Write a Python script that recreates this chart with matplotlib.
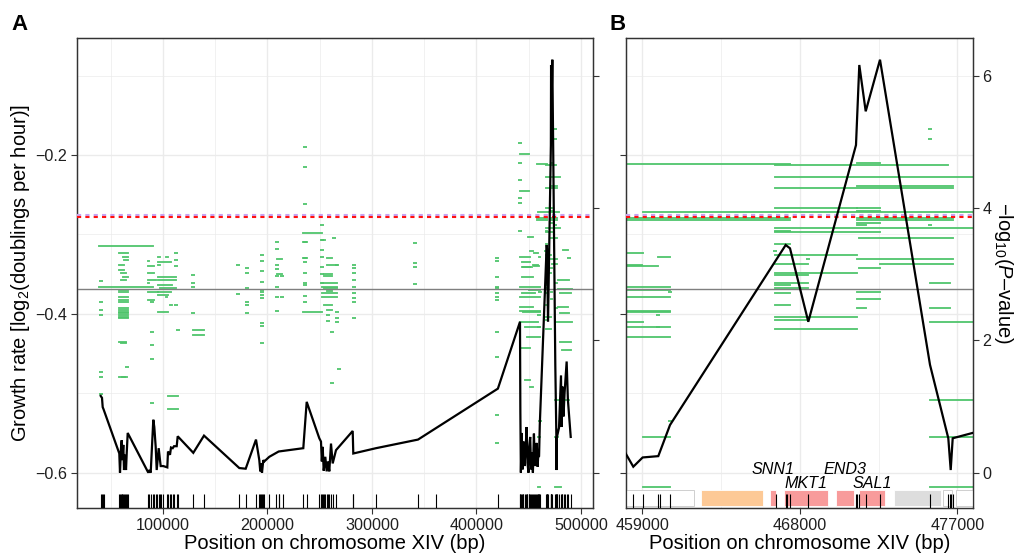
import matplotlib
matplotlib.use('Agg')
import matplotlib.pyplot as plt
from matplotlib.collections import LineCollection
import matplotlib.transforms as mtransforms
from matplotlib.patches import Rectangle

plt.rcParams['font.family'] = ['Liberation Sans', 'DejaVu Sans']
plt.rcParams['mathtext.fontset'] = 'custom'
plt.rcParams['mathtext.rm'] = 'Liberation Sans'
plt.rcParams['mathtext.it'] = 'Liberation Sans:italic'

# ---------------- data ----------------
# LOD curve (-log10 P) at marker positions
lod_pos = [40380, 41620, 42290, 43060, 58180, 58850, 59810, 60480, 61050, 62010,
           62680, 63640, 64600, 65260, 66220, 85930, 86900, 88230, 90720, 91670,
           93010, 93970, 95880, 97130, 97800, 100290, 104120, 104790, 106700, 107660,
           109280, 110530, 113110, 114070, 129000, 139240, 173020, 179140, 189000, 192160,
           193100, 194100, 194740, 196000, 196950, 201740, 210700, 234270, 237520, 249580,
           251200, 252000, 252830, 253790, 255320, 256660, 257900, 259150, 260780, 262400,
           265560, 281540, 282120, 303840, 344040, 420500, 441650, 442000, 442500, 443300,
           444200, 445000, 446000, 447000, 448000, 448800, 449800, 450600, 451400, 452300,
           453200, 454000, 455000, 455800, 456800, 457700, 458486, 459020, 459914, 460583,
           467194, 467440, 468486, 471211, 471400, 471766, 472583, 475440, 476486, 476623,
           476737, 479000, 480900, 481400, 482300, 483300, 484300, 486300, 487500, 490200]
lod_value = [1.16, 1.13, 0.99, 0.96, 0.29, 0.0, 0.37, 0.49, 0.19, 0.42,
             0.04, 0.27, 0.04, 0.29, 0.60, 0.0, 0.04, 0.0, 0.80, 0.69,
             0.39, 0.04, 0.37, 0.19, 0.10, 0.10, 0.08, 0.32, 0.27, 0.38,
             0.37, 0.40, 0.40, 0.55, 0.30, 0.56, 0.07, 0.06, 0.50, 0.19,
             0.02, 0.14, 0.0, 0.19, 0.17, 0.24, 0.32, 0.37, 1.07, 0.52,
             0.47, 0.17, 0.39, 0.03, 0.24, 0.02, 0.17, 0.02, 0.44, 0.14,
             0.34, 0.63, 0.29, 0.37, 0.50, 1.27, 2.28, 0.92, 0.0, 0.60,
             0.05, 0.47, 0.10, 0.35, 0.69, 0.15, 0.0, 0.40, 0.54, 0.05,
             0.30, 0.0, 0.59, 0.10, 0.30, 0.45, 0.09, 0.23, 0.25, 0.72,
             3.44, 3.39, 2.28, 4.95, 6.16, 5.46, 6.24, 1.63, 0.52, 0.04,
             0.52, 0.68, 1.47, 0.69, 1.30, 0.85, 1.20, 1.68, 1.10, 0.54]
extra_markers = [208140, 211300, 214500, 361260, 460011, 466640, 467286, 471286, 476577]

lod_threshold = 3.87
lod_threshold_alt = 3.89
mean_growth = -0.3686

# growth-rate segments (start bp, end bp, growth rate)
segs_west = [
    (39040, 90720, -0.3145), (39040, 90720, -0.3665),
    (58180, 66220, -0.3237), (61430, 66220, -0.3280), (62970, 66220, -0.3321),
    (58180, 62970, -0.3384), (58180, 62970, -0.3447), (59810, 64600, -0.3489),
    (61430, 66220, -0.3531), (59810, 64600, -0.3573), (58180, 66220, -0.3699),
    (58180, 66220, -0.3720), (58180, 66220, -0.3783), (58180, 66220, -0.3825),
    (58180, 66220, -0.3846), (58180, 66220, -0.3929), (58180, 66220, -0.3951),
    (58180, 66220, -0.3972), (58180, 66220, -0.3992), (58180, 66220, -0.4014),
    (58180, 66220, -0.4035), (58180, 66220, -0.4055), (58180, 64600, -0.4350),
    (59810, 64600, -0.4370), (58180, 63930, -0.4791), (60500, 65200, -0.4798),
    (85360, 87000, -0.3334), (85360, 91000, -0.3397), (85360, 91000, -0.3489),
    (85360, 93000, -0.3573), (85360, 87000, -0.3615), (85360, 95000, -0.3720),
    (85360, 91000, -0.3825),
    (94930, 97000, -0.3280), (103000, 104500, -0.3280), (94930, 107660, -0.3343),
    (94930, 97000, -0.3385), (94930, 112440, -0.3531), (94930, 112440, -0.3580),
    (94930, 109000, -0.3636), (97000, 112440, -0.3678), (94930, 107660, -0.3720),
    (94930, 104500, -0.3762), (94930, 104500, -0.3972), (104500, 114070, -0.5030),
    (104500, 114070, -0.5198), (102800, 104000, -0.3783), (107000, 108200, -0.3890),
    (129000, 139520, -0.4203), (129000, 139520, -0.4266),
]
segs_central = [
    (208810, 213600, -0.3309), (208810, 213600, -0.3497),
    (234270, 251870, -0.2985), (234270, 251870, -0.3980),
    (234270, 237520, -0.3090), (234270, 237520, -0.3292),
    (251870, 255000, -0.3069), (256660, 266230, -0.3384), (256660, 261400, -0.3300),
    (254000, 261400, -0.3497), (254000, 261400, -0.3527), (251870, 266230, -0.3615),
    (251870, 266230, -0.3657), (254000, 266230, -0.3678), (251870, 266230, -0.3741),
    (251870, 266230, -0.3783), (254000, 261400, -0.3888), (256660, 261400, -0.3951),
    (256660, 261400, -0.3716),
]
segs_east = [
    (441650, 449970, -0.1986), (441650, 449970, -0.2456), (449650, 454430, -0.3035),
    (451220, 454100, -0.3212), (441650, 451220, -0.3287), (443300, 451220, -0.3346),
    (444900, 452800, -0.3413), (443300, 451220, -0.3406), (443300, 454400, -0.3531),
    (454400, 459000, -0.3389), (443300, 456400, -0.3741), (441650, 454400, -0.3911),
    (441650, 451220, -0.4433), (446000, 451220, -0.4832), (451220, 453800, -0.4917),
    (478500, 491130, -0.3690), (478500, 489000, -0.3573), (480000, 490000, -0.3741),
    (478500, 488000, -0.3910), (480000, 489000, -0.3993), (480000, 490000, -0.4350),
    (482000, 490000, -0.4455), (483000, 488000, -0.3199),
]
segs_mkt1 = [
    (457600, 467440, -0.2112), (466583, 476488, -0.2120), (471250, 472583, -0.2105),
    (466583, 480400, -0.2272), (466583, 476735, -0.2410), (471250, 476735, -0.2390),
    (466583, 471250, -0.2670), (471250, 472583, -0.2666), (471250, 472583, -0.2708),
    (459059, 479000, -0.2717), (457600, 467440, -0.2817), (457600, 467440, -0.2790),
    (471250, 476735, -0.2817), (471250, 476735, -0.2790), (471250, 472583, -0.2850),
    (471250, 471766, -0.2880), (466583, 479500, -0.2918), (466583, 467440, -0.2952),
    (466583, 472583, -0.2973), (471400, 476735, -0.3040), (466583, 467440, -0.3124),
    (466583, 471250, -0.3258), (466583, 468488, -0.3375), (471250, 476735, -0.3312),
    (471400, 472583, -0.3418), (472583, 476735, -0.3375), (455500, 459059, -0.3229),
    (459917, 460583, -0.3290), (455500, 459917, -0.3393), (466583, 471250, -0.3481),
    (466583, 468488, -0.3510), (466583, 468488, -0.3615), (466583, 467440, -0.3636),
    (466583, 467440, -0.3741), (466583, 468488, -0.3678), (441650, 460583, -0.3665),
    (450000, 460583, -0.3699), (441650, 460583, -0.3783), (441650, 460583, -0.3960),
    (445000, 460583, -0.3972), (441650, 459059, -0.4100), (446000, 460583, -0.4170),
    (448000, 460583, -0.4287), (471250, 472583, -0.3720), (471250, 472583, -0.3816),
    (471250, 471766, -0.3929), (466583, 467440, -0.3888), (466583, 471250, -0.4035),
    (466583, 468488, -0.4077), (466583, 471250, -0.4190), (475440, 476600, -0.3615),
    (475440, 476600, -0.3930), (475440, 491000, -0.4100), (475440, 488500, -0.5085),
    (475440, 478500, -0.5547), (475440, 480500, -0.6184), (459059, 460583, -0.5547),
    (459059, 460583, -0.6184),
]
# single-marker genotype intervals (drawn as short dashes)
dot_pos = [40380, 65260, 89800, 112440, 114070, 129000, 172250, 180100, 195030, 208810,
           213600, 236180, 251870, 258200, 261600, 264000, 266230, 268300, 282790, 341160,
           420100, 441650, 489000, 475440, 466583, 468488, 460583, 459917]
dot_growth = [
    [-0.359, -0.385, -0.395, -0.401, -0.473, -0.480, -0.501],
    [-0.4665],
    [-0.3846, -0.4224, -0.4392, -0.4572, -0.5126],
    [-0.3237, -0.3321, -0.3397, -0.3888],
    [-0.4203],
    [-0.351, -0.3607, -0.3657, -0.3985],
    [-0.338, -0.375],
    [-0.3426, -0.3489, -0.3678, -0.3846, -0.3888, -0.3992],
    [-0.3258, -0.3334, -0.346, -0.3602, -0.3699, -0.372, -0.3762, -0.3796, -0.4111, -0.4152, -0.4363],
    [-0.309, -0.3186, -0.3384, -0.3438, -0.3519, -0.3657, -0.3783, -0.3963],
    [-0.3519, -0.3783],
    [-0.1902, -0.2146, -0.262, -0.309, -0.3292, -0.3343, -0.3481, -0.3607, -0.3636, -0.3771, -0.3846],
    [-0.288, -0.3069, -0.3195, -0.328, -0.3406, -0.35, -0.3615],
    [-0.4014, -0.4086],
    [-0.4224, -0.4866],
    [-0.304],
    [-0.339, -0.3972, -0.4048, -0.4098],
    [-0.4694],
    [-0.3384, -0.3426, -0.3481, -0.3573, -0.3665, -0.3741, -0.3796, -0.3846, -0.4048],
    [-0.3111, -0.3363, -0.3406, -0.3627],
    [-0.3296, -0.3338, -0.3531, -0.3657, -0.3678, -0.3741, -0.3783, -0.3825, -0.4224, -0.4539, -0.5273, -0.563],
    [-0.1848, -0.2099, -0.231, -0.254, -0.2603, -0.2952],
    [-0.3296],
    [-0.1675, -0.1793, -0.2880],
    [-0.3204],
    [-0.3309],
    [-0.5345, -0.372],
    [-0.4014, -0.4161],
]

# genes in panel B
gene_start = [457000, 462354, 466316, 467114, 470048, 471400, 473382, 476200, 476923]
gene_end = [461973, 465916, 466621, 469590, 471114, 472868, 476048, 476676, 478800]
gene_class = ['other', 'orange', 'red', 'red', 'red', 'red', 'grey', 'other', 'other']
gene_name = ['', '', 'SNN1', 'MKT1', 'END3', 'SAL1', '', '', '']

xticks_a = [100000, 200000, 300000, 400000, 500000]
xticks_b = [459000, 468000, 477000]
growth_ticks = [-0.6, -0.4, -0.2]
lod_ticks = [0, 2, 4, 6]

# ---------------- style ----------------
W, H = 1014, 555
GREEN = '#4DC46A'
GRID = '#EBEBEB'
TXT = '#1F1F1F'
G_LO, G_HI = -0.6441, -0.0523
LOD_SCALE = 12.0
TICK_FS = 11.6
TITLE_FS = 14.5
class_color = {'other': 'white', 'orange': '#FDC996', 'red': '#F89B9B', 'grey': '#DDDDDD'}

fig = plt.figure(figsize=(W / 100, H / 100), dpi=100)
ax_top, ax_bot = 37.7, 507.7
axA = fig.add_axes([76.7 / W, 1 - ax_bot / H, (593.5 - 76.7) / W, (ax_bot - ax_top) / H])
axB = fig.add_axes([626.0 / W, 1 - ax_bot / H, (972.7 - 626.0) / W, (ax_bot - ax_top) / H])

all_segs = segs_west + segs_central + segs_east + segs_mkt1
markers = sorted(set(lod_pos + extra_markers))


def draw_panel(ax, xlim, xticks, xminor, left_labels, right_labels, genes):
    ax2 = ax.twinx()
    ax.set_xlim(*xlim)
    ax.set_ylim(G_LO, G_HI)
    ax2.set_ylim((G_LO + 0.6) * LOD_SCALE, (G_HI + 0.6) * LOD_SCALE)

    # grid
    for x in xticks:
        ax.axvline(x, color=GRID, lw=1.0, zorder=0)
    for x in xminor:
        ax.axvline(x, color=GRID, lw=0.5, zorder=0)
    for y in growth_ticks:
        ax.axhline(y, color=GRID, lw=1.0, zorder=0)
    for y in [-0.5, -0.3, -0.1]:
        ax.axhline(y, color=GRID, lw=0.5, zorder=0)

    # green genotype-interval segments
    lines = [[(s, g), (e, g)] for s, e, g in all_segs]
    lc = LineCollection(lines, colors=GREEN, linewidths=1.35, alpha=0.95, zorder=2,
                        capstyle='projecting')
    ax.add_collection(lc)
    for p, gs in zip(dot_pos, dot_growth):
        ax.plot([p] * len(gs), gs, ls='none', marker='_', ms=2.8, mew=1.35,
                color=GREEN, alpha=0.95, zorder=2)

    ax.axhline(mean_growth, color='#7F7F7F', lw=1.0, zorder=3)

    # genes
    blend = mtransforms.blended_transform_factory(ax2.transData, ax2.transAxes)
    if genes:
        for s, e, c in zip(gene_start, gene_end, gene_class):
            ec = '#C8C8C8' if c == 'other' else 'white'
            ax2.add_patch(Rectangle((s, 0.004), e - s, 0.033, transform=blend,
                                    facecolor=class_color[c], edgecolor=ec, lw=0.6,
                                    zorder=1, clip_on=True))
        row = 0
        for s, e, n in zip(gene_start, gene_end, gene_name):
            if n:
                ypos = 0.082 if row % 2 == 0 else 0.052
                ax2.text((s + e) / 2, ypos, n, transform=blend, ha='center', va='center',
                         fontsize=TICK_FS, style='italic', color='black', zorder=6)
                row += 1

    # thresholds
    ax2.axhline(lod_threshold_alt, color='#C8A2F0', lw=1.5, ls=(0, (2.0, 2.0)), zorder=4)
    ax2.axhline(lod_threshold, color='#FF1010', lw=1.5, ls=(0, (2.0, 2.0)), zorder=4)

    # LOD curve
    ax2.plot(lod_pos, lod_value, color='black', lw=1.6, zorder=5, solid_joinstyle='miter')

    # rug
    rug = LineCollection([[(m, 0), (m, 0.03)] for m in markers], colors='black',
                         linewidths=0.8, transform=blend, zorder=5)
    ax2.add_collection(rug)
    ax2.set_xlim(*xlim)

    # ticks & spines
    ax.set_xticks(xticks)
    ax.set_xticklabels([str(x) for x in xticks])
    ax.set_yticks(growth_ticks)
    ax.set_yticklabels(['\u22120.6', '\u22120.4', '\u22120.2'] if left_labels else [])
    ax2.set_yticks(lod_ticks)
    ax2.set_yticklabels([str(v) for v in lod_ticks] if right_labels else [])
    for a in (ax, ax2):
        a.tick_params(length=4.6, width=0.8, color='#333333', labelsize=TICK_FS,
                      labelcolor=TXT, pad=2.5)
        for sp in a.spines.values():
            sp.set_color('#333333')
            sp.set_linewidth(0.9)
    ax.tick_params(axis='y', right=False)
    ax2.tick_params(axis='y', left=False, right=True)
    ax.set_xlabel('Position on chromosome XIV (bp)', fontsize=TITLE_FS, color='black',
                  labelpad=1.0)
    ax.set_facecolor('white')
    ax2.patch.set_visible(False)
    return ax2


draw_panel(axA, (17410, 512000), xticks_a, [50000, 150000, 250000, 350000, 450000],
           True, False, False)
draw_panel(axB, (458069, 477880), xticks_b, [463500, 472500], False, True, True)

fig.text(21 / W, 1 - 272.7 / H, 'Growth rate [log$_2$(doublings per hour)]', rotation=90,
         ha='center', va='center', fontsize=TITLE_FS)
fig.text(1003 / W, 1 - 272.7 / H, '\u2212log$_{10}$($P$\u2013value)', rotation=270,
         ha='center', va='center', fontsize=TITLE_FS)
fig.text(20 / W, 1 - 24 / H, 'A', fontsize=16, fontweight='bold', ha='center', va='center')
fig.text(618 / W, 1 - 24 / H, 'B', fontsize=16, fontweight='bold', ha='center', va='center')

fig.savefig('out.png', dpi=100)
